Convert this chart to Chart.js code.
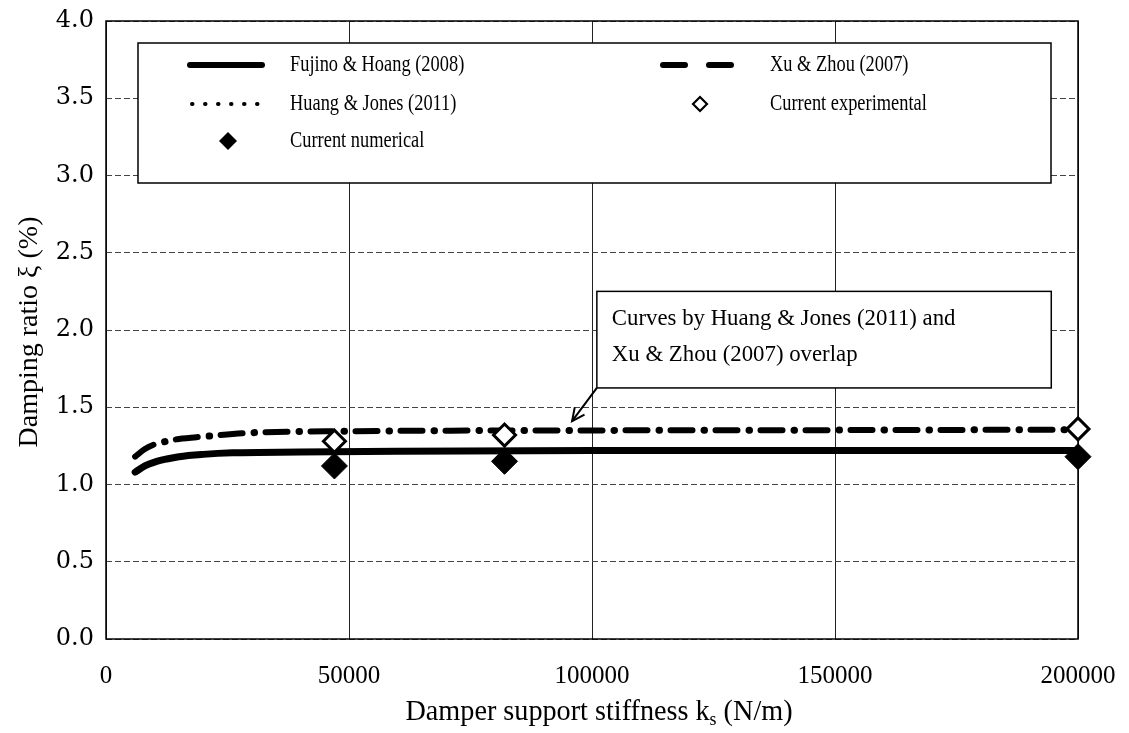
<!DOCTYPE html>
<html>
<head>
<meta charset="utf-8">
<title>Damping ratio vs damper support stiffness</title>
<script src="https://cdn.jsdelivr.net/npm/chart.js@4.4.1/dist/chart.umd.min.js"></script>
<style>
  html, body { margin: 0; padding: 0; background: #ffffff; }
  #wrap { width: 1129px; height: 733px; }
</style>
</head>
<body>
<div id="wrap"><canvas id="chart" width="1129" height="733"></canvas></div>
<script>
// ---- data ----
const stiffnessFujino = [6000, 8000, 10000, 12500, 15000, 20000, 26000, 40000, 60000, 100000, 150000, 200000];
const dampingFujino   = [1.08, 1.12, 1.145, 1.165, 1.18, 1.195, 1.205, 1.21, 1.215, 1.22, 1.22, 1.22];

const stiffnessXu = [6000, 8000, 10000, 12500, 15000, 20000, 30000, 50000, 100000, 150000, 200000];
const dampingXu   = [1.18, 1.23, 1.26, 1.28, 1.295, 1.31, 1.335, 1.345, 1.35, 1.352, 1.355];

const stiffnessHuang = [6000, 8000, 10000, 12500, 15000, 20000, 30000, 50000, 100000, 150000, 200000];
const dampingHuang   = [1.18, 1.23, 1.26, 1.28, 1.295, 1.31, 1.335, 1.345, 1.35, 1.352, 1.355];

const stiffnessTest       = [47000, 82000, 200000];
const dampingExperimental = [1.28, 1.32, 1.36];
const dampingNumerical    = [1.12, 1.15, 1.18];

const seriesLabels = [
  'Fujino & Hoang (2008)',
  'Xu & Zhou (2007)',
  'Huang & Jones (2011)',
  'Current experimental',
  'Current numerical'
];

const xTitleMain = 'Damper support stiffness k';
const xTitleSub  = 's';
const xTitleTail = ' (N/m)';
const yTitle     = 'Damping ratio \u03BE (%)';
const noteLines  = ['Curves by Huang & Jones (2011) and', 'Xu & Zhou (2007) overlap'];

// ---- helpers ----
const SERIF = '"Liberation Serif", "Times New Roman", Times, serif';
const pairs = (xs, ys) => xs.map((x, i) => ({ x: x, y: ys[i] }));

function drawCondensed(ctx, text, x, y, sx) {
  ctx.save();
  ctx.translate(x, y);
  ctx.scale(sx, 1);
  ctx.fillText(text, 0, 0);
  ctx.restore();
}

function diamond(ctx, cx, cy, r, filled, lw) {
  ctx.beginPath();
  ctx.moveTo(cx, cy - r);
  ctx.lineTo(cx + r, cy);
  ctx.lineTo(cx, cy + r);
  ctx.lineTo(cx - r, cy);
  ctx.closePath();
  if (filled) { ctx.fillStyle = '#000'; ctx.fill(); }
  else { ctx.fillStyle = '#fff'; ctx.fill(); ctx.lineWidth = lw; ctx.strokeStyle = '#000'; ctx.stroke(); }
}

// keep the plot area independent of tick-label overhang
function noOverhang(scale) {
  scale.paddingLeft = 0;
  scale.paddingRight = 0;
  scale.paddingTop = 0;
  scale.paddingBottom = 0;
}

// Frame, legend, note box, axis titles
const decorations = {
  id: 'decorations',
  beforeDatasetsDraw(chart) {
    const ctx = chart.ctx;
    const a = chart.chartArea;
    const xs = chart.scales.x, ys = chart.scales.y;
    ctx.save();

    // plot frame
    ctx.strokeStyle = '#000';
    ctx.lineWidth = 1.5;
    ctx.strokeRect(a.left, a.top, a.right - a.left, a.bottom - a.top);

    // legend box
    const lx = a.left + 32, ly = a.top + 22, lw = a.right - 27 - lx, lh = 140;
    ctx.fillStyle = '#fff';
    ctx.fillRect(lx, ly, lw, lh);
    ctx.lineWidth = 1.5;
    ctx.strokeStyle = '#000';
    ctx.strokeRect(lx, ly, lw, lh);

    const rows = [ly + 22, ly + 61, ly + 98];
    const col1Sample = lx + 52, col1Text = lx + 152;
    const col2Sample = lx + 522, col2Text = lx + 632;
    const sampleLen = 72;
    const ds = chart.data.datasets;

    ctx.font = '23px ' + SERIF;
    ctx.textBaseline = 'middle';
    ctx.textAlign = 'left';
    ctx.lineCap = 'round';

    // Fujino & Hoang: solid
    ctx.strokeStyle = '#000';
    ctx.lineWidth = 6;
    ctx.setLineDash([]);
    ctx.beginPath(); ctx.moveTo(col1Sample, rows[0]); ctx.lineTo(col1Sample + sampleLen, rows[0]); ctx.stroke();
    // Xu & Zhou: dashed
    ctx.setLineDash([22, 24]);
    ctx.beginPath(); ctx.moveTo(col2Sample + 3, rows[0]); ctx.lineTo(col2Sample + 3 + 74, rows[0]); ctx.stroke();
    // Huang & Jones: dotted
    ctx.lineWidth = 4;
    ctx.setLineDash([0.5, 12.5]);
    ctx.beginPath(); ctx.moveTo(col1Sample + 2, rows[1]); ctx.lineTo(col1Sample + sampleLen, rows[1]); ctx.stroke();
    ctx.setLineDash([]);
    // markers
    diamond(ctx, col2Sample + 40, rows[1], 7, false, 2.2);
    diamond(ctx, col1Sample + 38, rows[2], 9, true, 0);

    ctx.fillStyle = '#000';
    const sx = 0.8;
    drawCondensed(ctx, ds[0].label, col1Text, rows[0], sx);
    drawCondensed(ctx, ds[1].label, col2Text, rows[0], sx);
    drawCondensed(ctx, ds[2].label, col1Text, rows[1], sx);
    drawCondensed(ctx, ds[3].label, col2Text, rows[1], sx);
    drawCondensed(ctx, ds[4].label, col1Text, rows[2], sx);

    // note box with arrow, anchored in data units
    const bx0 = xs.getPixelForValue(101000), bx1 = xs.getPixelForValue(194500);
    const by0 = ys.getPixelForValue(2.25),   by1 = ys.getPixelForValue(1.625);
    ctx.fillStyle = '#fff';
    ctx.fillRect(bx0, by0, bx1 - bx0, by1 - by0);
    ctx.lineWidth = 1.5;
    ctx.strokeStyle = '#000';
    ctx.strokeRect(bx0, by0, bx1 - bx0, by1 - by0);
    ctx.fillStyle = '#000';
    ctx.font = '24px ' + SERIF;
    drawCondensed(ctx, noteLines[0], bx0 + 15, by0 + 27, 0.95);
    drawCondensed(ctx, noteLines[1], bx0 + 15, by0 + 63, 0.95);

    const tipX = xs.getPixelForValue(95900), tipY = ys.getPixelForValue(1.41);
    ctx.lineWidth = 2;
    ctx.lineCap = 'butt';
    ctx.beginPath(); ctx.moveTo(bx0, by1); ctx.lineTo(tipX, tipY); ctx.stroke();
    const ang = Math.atan2(tipY - by1, tipX - bx0);
    const head = 14, spread = 0.45;
    ctx.beginPath();
    ctx.moveTo(tipX - head * Math.cos(ang - spread), tipY - head * Math.sin(ang - spread));
    ctx.lineTo(tipX, tipY);
    ctx.lineTo(tipX - head * Math.cos(ang + spread), tipY - head * Math.sin(ang + spread));
    ctx.stroke();

    ctx.restore();
  },
  afterDraw(chart) {
    const ctx = chart.ctx;
    const a = chart.chartArea;
    ctx.save();
    ctx.fillStyle = '#000';
    ctx.textBaseline = 'middle';

    // x-axis title with subscript
    const mainFont = '30px ' + SERIF, subFont = '19px ' + SERIF;
    ctx.font = mainFont;
    const w1 = ctx.measureText(xTitleMain).width;
    const w3 = ctx.measureText(xTitleTail).width;
    ctx.font = subFont;
    const w2 = ctx.measureText(xTitleSub).width;
    const sxT = 0.94;
    const total = (w1 + w2 + w3) * sxT;
    const cx = (a.left + a.right) / 2 + 7;
    let x = cx - total / 2;
    const y = 712;
    ctx.textAlign = 'left';
    ctx.font = mainFont; drawCondensed(ctx, xTitleMain, x, y, sxT); x += w1 * sxT;
    ctx.font = subFont;  drawCondensed(ctx, xTitleSub, x, y + 8, sxT); x += w2 * sxT;
    ctx.font = mainFont; drawCondensed(ctx, xTitleTail, x, y, sxT);

    // y-axis title
    ctx.save();
    ctx.translate(30, (a.top + a.bottom) / 2 + 2);
    ctx.rotate(-Math.PI / 2);
    ctx.textAlign = 'center';
    ctx.font = '28px ' + SERIF;
    ctx.scale(1.0, 1);
    ctx.fillText(yTitle, 0, 0);
    ctx.restore();

    ctx.restore();
  }
};

new Chart(document.getElementById('chart'), {
  type: 'scatter',
  data: {
    datasets: [
      {
        label: seriesLabels[0],
        data: pairs(stiffnessFujino, dampingFujino),
        showLine: true, pointRadius: 0,
        borderColor: '#000', borderWidth: 7, borderCapStyle: 'round',
        cubicInterpolationMode: 'monotone', order: 2
      },
      {
        label: seriesLabels[1],
        data: pairs(stiffnessXu, dampingXu),
        showLine: true, pointRadius: 0,
        borderColor: '#000', borderWidth: 6, borderCapStyle: 'round',
        borderDash: [22, 23],
        cubicInterpolationMode: 'monotone', order: 2
      },
      {
        label: seriesLabels[2],
        data: pairs(stiffnessHuang, dampingHuang),
        showLine: true, pointRadius: 0,
        borderColor: '#000', borderWidth: 7, borderCapStyle: 'round',
        borderDash: [0.5, 44.5], borderDashOffset: 11.5,
        cubicInterpolationMode: 'monotone', order: 2
      },
      {
        label: seriesLabels[3],
        data: pairs(stiffnessTest, dampingExperimental),
        showLine: false, clip: false,
        pointStyle: 'rectRot', pointRadius: 11, pointHoverRadius: 11,
        pointBackgroundColor: '#fff', pointBorderColor: '#000', pointBorderWidth: 3,
        order: 0
      },
      {
        label: seriesLabels[4],
        data: pairs(stiffnessTest, dampingNumerical),
        showLine: false, clip: false,
        pointStyle: 'rectRot', pointRadius: 13, pointHoverRadius: 13,
        pointBackgroundColor: '#000', pointBorderColor: '#000', pointBorderWidth: 1,
        order: 0
      }
    ]
  },
  options: {
    responsive: false,
    animation: false,
    devicePixelRatio: 1,
    events: [],
    layout: { padding: { left: 0, top: 21, right: 51, bottom: 0 } },
    plugins: { legend: { display: false }, tooltip: { enabled: false } },
    scales: {
      x: {
        type: 'linear', min: 0, max: 200000,
        afterFit(scale) { scale.height = 94; noOverhang(scale); },
        ticks: {
          stepSize: 50000, color: '#000', padding: 22,
          font: { family: SERIF, size: 25 },
          callback: (v) => String(v)
        },
        grid: { color: '#222', lineWidth: 1, drawTicks: false },
        border: { display: false }
      },
      y: {
        min: 0, max: 4,
        afterFit(scale) { scale.width = 106; noOverhang(scale); },
        ticks: {
          stepSize: 0.5, color: '#000', padding: 12,
          font: { family: '"DejaVu Serif", serif', size: 24 },
          callback: (v) => v.toFixed(1)
        },
        grid: { color: '#444', lineWidth: 1, drawTicks: false },
        border: { display: false, dash: [6, 3] }
      }
    }
  },
  plugins: [decorations]
});
</script>
</body>
</html>
